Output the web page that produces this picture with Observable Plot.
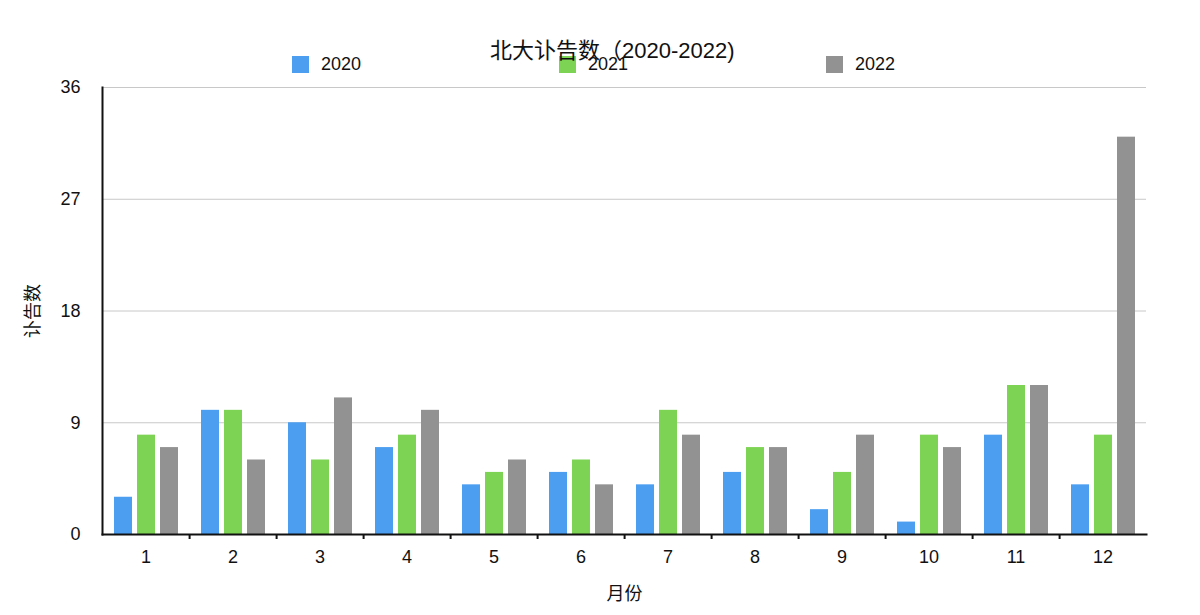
<!DOCTYPE html>
<html>
<head>
<meta charset="utf-8">
<script src="https://cdn.jsdelivr.net/npm/d3@7"></script>
<script src="https://cdn.jsdelivr.net/npm/@observablehq/plot@0.6"></script>
<style>
  html, body { margin: 0; padding: 0; background: #fff; }
  body { font-family: "Liberation Sans", "Noto Sans CJK SC", sans-serif; }
  #wrap { position: relative; width: 1200px; height: 615px; overflow: hidden; }
  #title { position: absolute; left: 490px; top: 40px; line-height: 22px;
           font-size: 22px; white-space: nowrap; color: #111;
           font-family: "Liberation Sans", "Noto Sans CJK SC", sans-serif; z-index: 2; }
  .leg { position: absolute; top: 56px; height: 17px; display: flex; align-items: center; font-size: 18px; line-height: 17px; color: #111; z-index: 1; }
  .leg span.sw { display: inline-block; width: 17px; height: 17px; margin-right: 12px; }
  #chart { position: absolute; left: 0; top: 0; }
</style>
</head>
<body>
<div id="wrap">
  <div id="chart"></div>
  <div id="title"></div>
  <div id="legend"></div>
</div>
<script>
const title = "北大讣告数（2020-2022)";
const xLabel = "月份";
const yLabel = "讣告数";
const months = ["1","2","3","4","5","6","7","8","9","10","11","12"];
const years = ["2020","2021","2022"];
const v2020 = [3,10,9,7,4,5,4,5,2,1,8,4];
const v2021 = [8,10,6,8,5,6,10,7,5,8,12,8];
const v2022 = [7,6,11,10,6,4,8,7,8,7,12,32];
const yTicks = [0,9,18,27,36];
const gridTicks = [9,18,27,36];
const colors = ["#4b9ef0","#7dd353","#929292"];
const legendX = [292, 559, 826];

const series = [v2020, v2021, v2022];
const data = months.flatMap((m, i) => years.map((y, k) => ({month: m, year: y, value: series[k][i]})));

document.getElementById("title").textContent = title;
const leg = document.getElementById("legend");
years.forEach((y, k) => {
  const d = document.createElement("div");
  d.className = "leg";
  d.style.left = legendX[k] + "px";
  d.innerHTML = `<span class="sw" style="background:${colors[k]}"></span><span>${y}</span>`;
  leg.appendChild(d);
});

const chart = Plot.plot({
  width: 1200,
  height: 615,
  marginTop: 87,
  marginBottom: 81,
  marginLeft: 100,
  marginRight: 53,
  style: {fontSize: "18px", fontFamily: "\"Liberation Sans\", \"Noto Sans CJK SC\", sans-serif", color: "#111", background: "transparent", overflow: "visible"},
  fx: {domain: months, padding: 0, label: null},
  x: {domain: years, paddingInner: 0.23, paddingOuter: 0.45, axis: null},
  y: {domain: [0, 36], axis: null},
  color: {domain: years, range: colors},
  marks: [
    Plot.ruleY(gridTicks, {stroke: "#c8c8c8", strokeWidth: 1}),
    Plot.barY(data, {fx: "month", x: "year", y: "value", fill: "year"}),
    Plot.frame({anchor: "bottom", stroke: "#111", strokeWidth: 2, facet: "super"}),
    Plot.frame({anchor: "left", stroke: "#111", strokeWidth: 2, facet: "super"}),
    Plot.ruleX(months.slice(0, 11), {fx: d => d, x: null, y1: 0, y2: 0, insetTop: 5, dx: 43.6, stroke: "#111", strokeWidth: 2}),
    Plot.axisY({ticks: yTicks, tickSize: 0, tickPadding: 22, fontSize: 18, label: yLabel, labelAnchor: "center", labelArrow: "none", labelOffset: 76}),
    Plot.axisFx({anchor: "bottom", tickSize: 0, tickPadding: 16, fontSize: 18, label: xLabel, labelAnchor: "center", labelArrow: "none", labelOffset: 65})
  ]
});
document.getElementById("chart").appendChild(chart);
</script>
</body>
</html>
